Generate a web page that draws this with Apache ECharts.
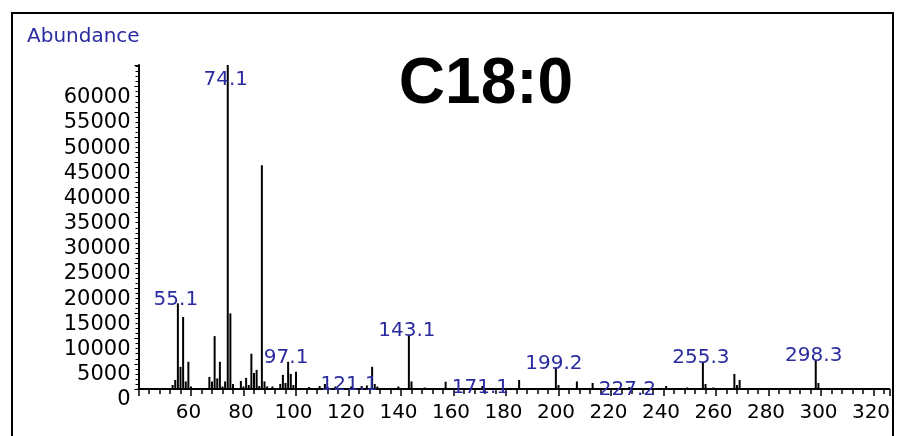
<!DOCTYPE html>
<html>
<head>
<meta charset="utf-8">
<script src="https://cdn.jsdelivr.net/npm/echarts@6/dist/echarts.min.js"></script>
<style>html,body{margin:0;padding:0;background:#fff}#c{width:898px;height:436px}</style>
</head>
<body>
<div id="c"></div>
<script>
// m/z values and abundances
const mz = [53,54,55,56,57,58,59,60,
  67,68,69,70,71,72,73,74,75,76,
  79,80,81,82,83,84,85,86,87,88,89,
  91,94,95,96,97,98,99,100,
  105,109,111,112,115,121,125,127,129,130,131,139,143,144,
  149,157,171,185,199,200,
  207,213,227,241,249,255,256,259,267,268,269,298,299];
const abundance = [800,1800,17000,4400,14300,1500,5400,500,
  2400,1500,10500,2100,5400,500,1500,64300,15000,1000,
  1600,500,2200,800,7000,3200,3800,600,44400,1500,500,
  500,1000,2800,1200,5400,3000,800,3400,
  400,600,1000,500,500,500,600,700,4400,1000,500,500,10700,1500,
  300,1450,600,1800,4200,800,
  1500,1200,400,600,300,5300,1000,300,3000,800,1800,5700,1200];
// labelled peaks
const labelMz = [55,74,97,121,143,171,199,227,255,298];
const labelText = ['55.1','74.1','97.1','121.1','143.1','171.1','199.2','227.2','255.3','298.3'];
// axis ticks
const xTicks = [60,80,100,120,140,160,180,200,220,240,260,280,300,320];
const yTicks = [0,5000,10000,15000,20000,25000,30000,35000,40000,45000,50000,55000,60000];

const labelDist = {74:-25, 121:-8, 171:-12, 227:-13};
const data = mz.map((m,i) => {
  const li = labelMz.indexOf(m);
  const item = {value:[m, abundance[i]]};
  if (li >= 0) {
    item.label = {show:true, formatter: labelText[li], position:'top',
      distance: (labelDist[m] !== undefined ? labelDist[m] : -6), offset:[-2,0]};
  }
  return item;
});

const chart = echarts.init(document.getElementById('c'));
chart.setOption({
  animation:false,
  backgroundColor:'#fff',
  title:{show:false},
  grid:{left:138.5, right:8.75, top:65, bottom:47, containLabel:false},
  xAxis:{
    type:'value', min:40, max:326, interval:20,
    axisLine:{lineStyle:{color:'#000', width:2}},
    axisTick:{show:true, length:7, lineStyle:{color:'#000', width:1.5}},
    minorTick:{show:true, splitNumber:5, length:5, lineStyle:{color:'#000', width:1.5}},
    splitLine:{show:false},
    axisLabel:{margin:14, fontFamily:'DejaVu Sans', fontSize:20, color:'#000', padding:[0,5,0,0],
      formatter: v => (xTicks.indexOf(Math.round(v)) >= 0 && Math.abs(v-Math.round(v))<1e-6) ? String(Math.round(v)) : ''}
  },
  yAxis:{
    type:'value', min:0, max:64300, interval:5000,
    axisLine:{show:true, lineStyle:{color:'#000', width:2}},
    axisTick:{show:true, length:4, lineStyle:{color:'#000', width:1}},
    minorTick:{show:true, splitNumber:5, length:3, lineStyle:{color:'#000', width:1}},
    splitLine:{show:false},
    axisLabel:{margin:8, fontFamily:'DejaVu Sans', fontSize:21, color:'#000',
      verticalAlign:'top', lineHeight:22,
      formatter: v => yTicks.indexOf(v) >= 0 ? String(v) : ''}
  },
  series:[{
    type:'bar', data:data, barWidth:2, clip:false,
    itemStyle:{color:'#000'},
    label:{show:false, fontFamily:'DejaVu Sans', fontSize:20, color:'#2b2ba0'}
  }],
  graphic:[
    {type:'rect', shape:{x:12, y:13, width:881, height:440}, style:{fill:'none', stroke:'#000', lineWidth:2}, silent:true},
    {type:'text', left:27, top:27, style:{text:'Abundance', fontFamily:'DejaVu Sans', fontSize:20, fill:'#2b2ba0'}},
    {type:'text', x:486, y:85, style:{text:'C18:0', fontFamily:'Liberation Sans', fontWeight:'bold', fontSize:64, fill:'#000', textAlign:'center', textVerticalAlign:'middle'}}
  ]
});
</script>
</body>
</html>
